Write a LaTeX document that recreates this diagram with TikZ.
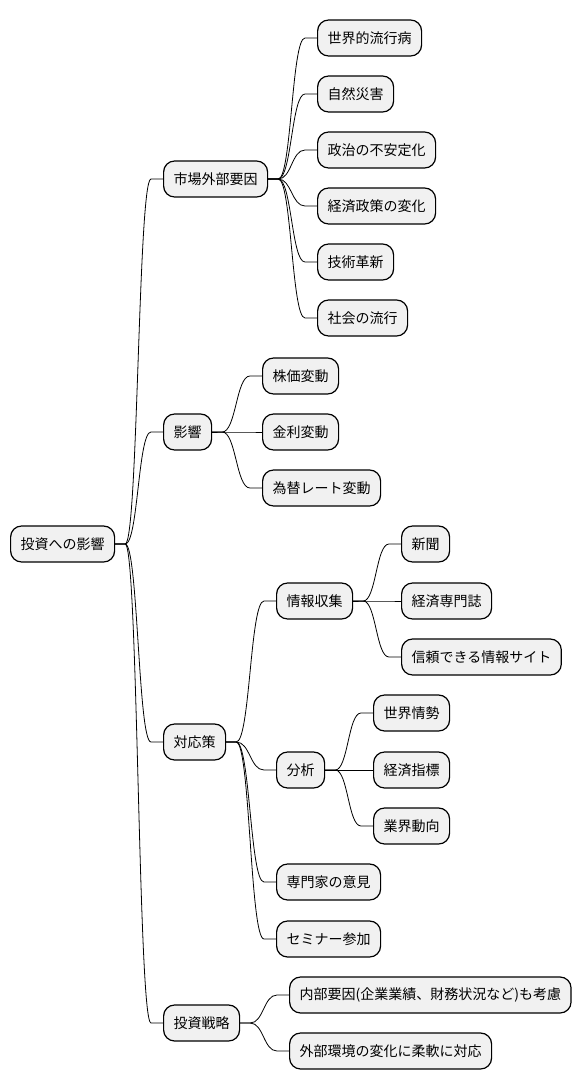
\documentclass[tikz,border=0pt]{standalone}
\usepackage{fontspec}
\setmainfont{Noto Sans CJK JP}
\usetikzlibrary{calc}
\definecolor{boxfill}{HTML}{F1F1F1}
\tikzset{
  mm/.style={draw=black, line width=1.2pt, fill=boxfill, rounded corners=11pt,
    anchor=west, minimum height=36pt, inner xsep=10pt, inner ysep=0pt,
    font=\fontsize{14pt}{16pt}\selectfont},
  edge/.style={draw=black, line width=0.8pt}
}
\newcommand\conn[2]{%
  \path (#1.east) ++(10,0) coordinate (cs);
  \path (#2.west) ++(-12,0) coordinate (ce);
  \draw[edge] let \p1=(cs), \p2=(ce) in
    (#1.east) -- (cs) .. controls ({(\x1+\x2)/2},\y1) and ({(\x1+\x2)/2},\y2) .. (ce) -- (#2.west);
}
\begin{document}
\begin{tikzpicture}[x=1pt,y=-1pt]
\useasboundingbox (0,0) rectangle (583,1090);
\node[mm] (root) at (10,544) {投資への影響};
\node[mm] (a) at (163,179) {市場外部要因};
\node[mm] (b) at (163,432) {影響};
\node[mm] (c) at (163,742) {対応策};
\node[mm] (d) at (163,1023) {投資戦略};
\node[mm] (a1) at (317,38) {世界的流行病};
\node[mm] (a2) at (317,94) {自然災害};
\node[mm] (a3) at (317,150) {政治の不安定化};
\node[mm] (a4) at (317,206) {経済政策の変化};
\node[mm] (a5) at (317,262) {技術革新};
\node[mm] (a6) at (317,318) {社会の流行};
\node[mm] (b1) at (262,376) {株価変動};
\node[mm] (b2) at (262,432) {金利変動};
\node[mm] (b3) at (262,488) {為替レート変動};
\node[mm] (c1) at (276,601) {情報収集};
\node[mm] (c2) at (276,770) {分析};
\node[mm] (c3) at (276,882) {専門家の意見};
\node[mm] (c4) at (276,939) {セミナー参加};
\node[mm] (c11) at (401,544) {新聞};
\node[mm] (c12) at (401,601) {経済専門誌};
\node[mm] (c13) at (401,657) {信頼できる情報サイト};
\node[mm] (c21) at (373,713) {世界情勢};
\node[mm] (c22) at (373,770) {経済指標};
\node[mm] (c23) at (373,826) {業界動向};
\node[mm] (d1) at (289,995) {内部要因(企業業績、財務状況など)も考慮};
\node[mm] (d2) at (289,1051) {外部環境の変化に柔軟に対応};
\foreach \ch in {a,b,c,d} {\conn{root}{\ch}}
\foreach \ch in {a1,a2,a3,a4,a5,a6} {\conn{a}{\ch}}
\foreach \ch in {b1,b2,b3} {\conn{b}{\ch}}
\foreach \ch in {c1,c2,c3,c4} {\conn{c}{\ch}}
\foreach \ch in {c11,c12,c13} {\conn{c1}{\ch}}
\foreach \ch in {c21,c22,c23} {\conn{c2}{\ch}}
\foreach \ch in {d1,d2} {\conn{d}{\ch}}
\end{tikzpicture}
\end{document}
